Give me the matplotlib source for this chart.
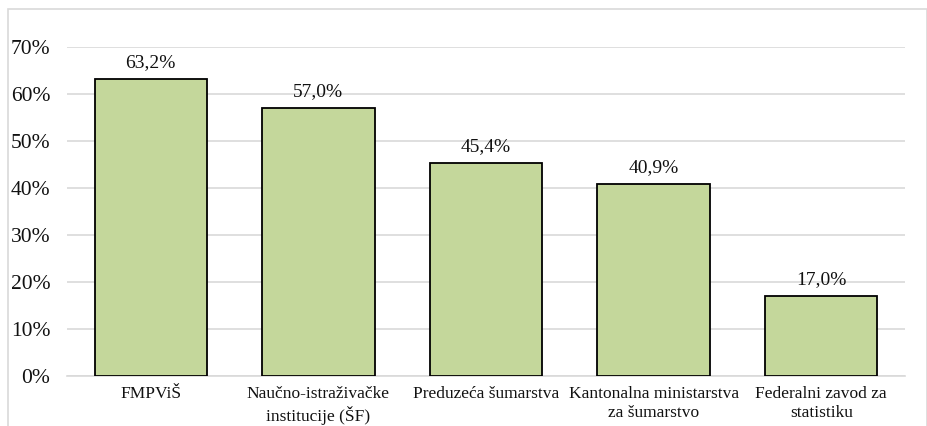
import matplotlib
matplotlib.use("Agg")
import matplotlib.pyplot as plt
from matplotlib.patches import Rectangle

categories = ["FMPViŠ", "Naučno-istraživačke\ninstitucije (ŠF)", "Preduzeća šumarstva",
              "Kantonalna ministarstva\nza šumarstvo", "Federalni zavod za\nstatistiku"]
values = [63.2, 57.0, 45.4, 40.9, 17.0]
labels = ["63,2%", "57,0%", "45,4%", "40,9%", "17,0%"]
yticks = [0, 10, 20, 30, 40, 50, 60, 70]
ytick_labels = ["0%", "10%", "20%", "30%", "40%", "50%", "60%", "70%"]

plt.rcParams['font.family'] = ['Liberation Serif', 'DejaVu Serif']

W, H = 928, 426
fig = plt.figure(figsize=(W/100, H/100), dpi=100)
fig.patches.append(Rectangle((8/W, -0.1), (927-8)/W, 1.1 - 9/H, transform=fig.transFigure,
                             fill=False, edgecolor="#d9d9d9", linewidth=1.2))
ax = fig.add_axes([67/W, 1 - 376/H, (905-67)/W, (376-47)/H])
x = list(range(len(categories)))
ax.bar(x, values, width=0.67, color="#c4d79b", edgecolor="black", linewidth=1.3, zorder=3)
for xi, v, lab in zip(x, values, labels):
    ax.text(xi, v + 1.7, lab, ha="center", va="bottom", fontsize=14, color="#111111")
ax.set_xlim(-0.5, len(categories) - 0.5)
ax.set_ylim(0, 70)
ax.set_yticks(yticks)
ax.set_yticklabels(ytick_labels, fontsize=15.5)
ax.set_xticks(x)
ax.set_xticklabels(categories, fontsize=12.5, linespacing=1.3)
ax.yaxis.grid(True, color="#d9d9d9", linewidth=1.2, zorder=0)
for s in ["top", "right", "left"]:
    ax.spines[s].set_visible(False)
ax.spines["bottom"].set_color("#d9d9d9")
ax.spines["bottom"].set_linewidth(1.2)
ax.tick_params(axis="both", length=0, colors="#111111")
ax.tick_params(axis="y", pad=12)
ax.tick_params(axis="x", pad=7)
fig.savefig("out.png", dpi=100)
